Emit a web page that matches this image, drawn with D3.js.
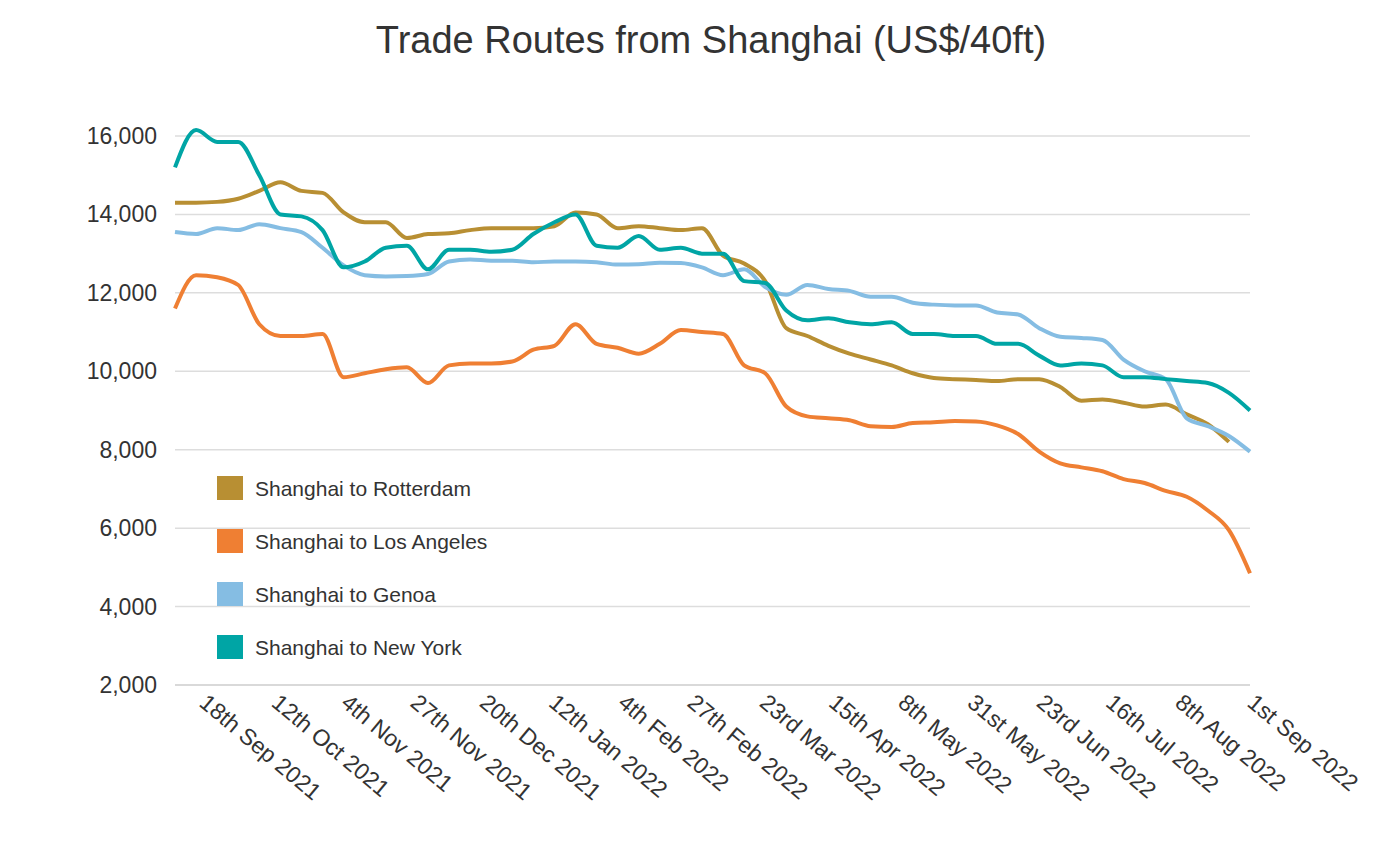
<!DOCTYPE html>
<html><head><meta charset="utf-8">
<script src="https://cdn.jsdelivr.net/npm/d3@7"></script>
<style>body{margin:0;background:#fff;font-family:"Liberation Sans",Arial,sans-serif}</style>
</head><body><div id="chart"></div>
<script>
const startDate = new Date(2021, 8, 9);
const rotterdam = [14300,14300,14320,14400,14600,14820,14600,14550,14050,13800,13800,13400,13500,13520,13600,13650,13650,13650,13700,14050,14000,13650,13700,13650,13600,13650,12950,12750,12300,11150,11100,10900,10650,10450,10300,10150,9950,9830,9800,9780,9750,9800,9800,9600,9250,9280,9200,9100,9150,8900,8650,8200,7650,7450].slice(0, 52);
const losAngeles = [11600,12450,12400,12200,11200,10900,10900,10950,9850,9950,10050,10100,9700,10150,10200,10200,10250,10550,10650,11200,10700,10600,10450,10700,11050,11000,10950,10150,9950,9100,8850,8800,8750,8600,8580,8680,8700,8730,8720,8620,8400,7950,7650,7550,7450,7250,7150,6950,6800,6450,5950,4850];
const genoa = [13550,13500,13650,13600,13750,13650,13550,13150,12700,12450,12420,12430,12480,12800,12850,12820,12820,12780,12800,12800,12780,12720,12730,12770,12760,12650,12450,12600,12150,11950,12200,12100,12050,11900,11900,11750,11700,11680,11680,11500,11450,11100,10880,10850,10800,10300,10000,9800,8800,8600,8350,7950];
const newYork = [15200,16150,15850,15850,15000,14000,13950,13600,12650,12800,13150,13200,12600,13100,13100,13050,13100,13500,13800,14000,13200,13150,13450,13100,13150,13000,13000,12300,12250,11550,11300,11350,11250,11200,11250,10950,10950,10900,10900,10700,10700,10400,10150,10200,10150,9850,9850,9800,9750,9700,9450,9000];
const tickLabels = ["18th Sep 2021","12th Oct 2021","4th Nov 2021","27th Nov 2021","20th Dec 2021","12th Jan 2022","4th Feb 2022","27th Feb 2022","23rd Mar 2022","15th Apr 2022","8th May 2022","31st May 2022","23rd Jun 2022","16th Jul 2022","8th Aug 2022","1st Sep 2022"];
const tickDates = [[2021,8,18],[2021,9,12],[2021,10,4],[2021,10,27],[2021,11,20],[2022,0,12],[2022,1,4],[2022,1,27],[2022,2,23],[2022,3,15],[2022,4,8],[2022,4,31],[2022,5,23],[2022,6,16],[2022,7,8],[2022,8,1]].map(a => new Date(a[0], a[1], a[2]));
const yTicks = [2000,4000,6000,8000,10000,12000,14000,16000];

// Rotterdam: the series is 52 weeks; drop the duplicated tail point
const rotterdamVals = rotterdam.filter((v, i) => i !== 29);

const series = [
  { name: "Shanghai to Rotterdam", color: "#b88f33", values: rotterdamVals },
  { name: "Shanghai to Los Angeles", color: "#ef7f33", values: losAngeles },
  { name: "Shanghai to Genoa", color: "#85bde3", values: genoa },
  { name: "Shanghai to New York", color: "#00a5a5", values: newYork }
];
const dateAt = i => d3.timeDay.offset(startDate, i * 7);

const width = 1397, height = 851;
const margin = { left: 175, right: 147, top: 136, bottom: 166 };
const svg = d3.select("#chart").append("svg").attr("width", width).attr("height", height);

const x = d3.scaleTime().domain([startDate, new Date(2022, 8, 1)]).range([margin.left, width - margin.right]);
const y = d3.scaleLinear().domain([2000, 16000]).range([height - margin.bottom, margin.top]);

svg.append("text").attr("x", 711).attr("y", 53).attr("text-anchor", "middle")
  .attr("font-size", 38).attr("fill", "#333").text("Trade Routes from Shanghai (US$/40ft)");

svg.append("g").selectAll("line").data(yTicks).join("line")
  .attr("x1", margin.left).attr("x2", width - margin.right)
  .attr("y1", d => y(d)).attr("y2", d => y(d))
  .attr("stroke", d => d === 2000 ? "#ccc" : "#ddd").attr("stroke-width", 1.5);

svg.append("g").selectAll("text").data(yTicks).join("text")
  .attr("x", 157).attr("y", d => y(d) + 8).attr("text-anchor", "end")
  .attr("font-size", 23).attr("fill", "#333").text(d3.format(","));

svg.append("g").selectAll("text").data(tickDates).join("text")
  .attr("transform", d => `translate(${x(d) - 4},${height - margin.bottom + 20}) rotate(40)`)
  .attr("font-size", 23).attr("fill", "#333")
  .text((d, i) => tickLabels[i]);

const line = d3.line().x((d, i) => x(dateAt(i))).y(d => y(d)).curve(d3.curveMonotoneX);
svg.append("g").selectAll("path").data(series).join("path")
  .attr("d", d => line(d.values)).attr("fill", "none")
  .attr("stroke", d => d.color).attr("stroke-width", 4);

const leg = svg.append("g").selectAll("g").data(series).join("g")
  .attr("transform", (d, i) => `translate(217,${476 + i * 53})`);
leg.append("rect").attr("width", 26).attr("height", 24).attr("fill", d => d.color);
leg.append("text").attr("x", 38).attr("y", 20).attr("font-size", 21).attr("fill", "#333").text(d => d.name);
</script></body></html>
